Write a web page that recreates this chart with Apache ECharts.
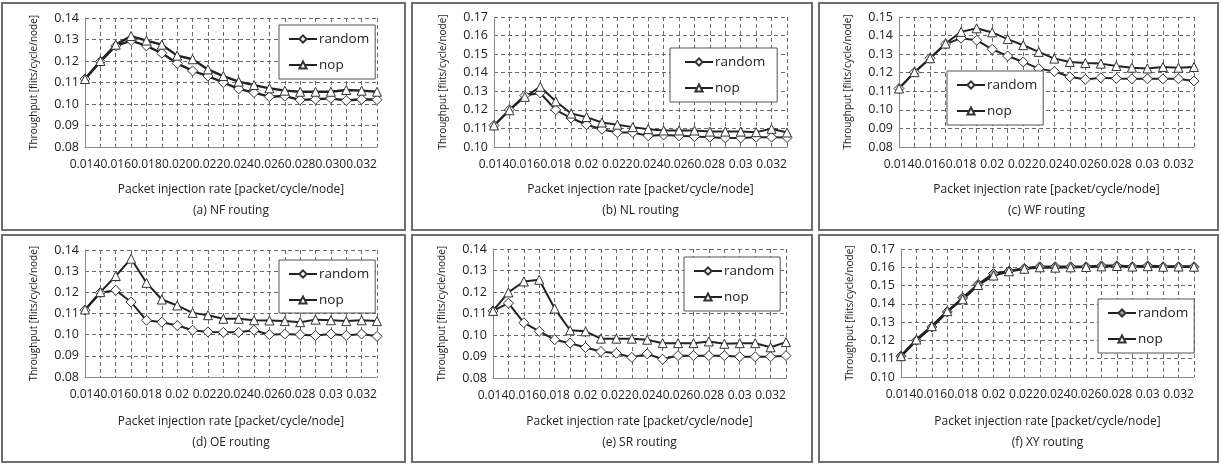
<!DOCTYPE html>
<html>
<head>
<meta charset="utf-8">
<script src="https://cdn.jsdelivr.net/npm/echarts@6/dist/echarts.min.js"></script>
<style>
  body { margin: 0; background: #fff; width: 1221px; height: 466px; position: relative; overflow: hidden; }
  .panel { position: absolute; box-sizing: border-box; border: 2px solid #6e6e6e; background: #fff; }
</style>
</head>
<body>
<div id="pa" class="panel" style="left:1px;top:2px;width:405px;height:229px"></div>
<div id="pb" class="panel" style="left:411px;top:2px;width:402px;height:229px"></div>
<div id="pc" class="panel" style="left:818px;top:2px;width:401px;height:229px"></div>
<div id="pd" class="panel" style="left:1px;top:234px;width:405px;height:229px"></div>
<div id="pe" class="panel" style="left:411px;top:234px;width:402px;height:229px"></div>
<div id="pf" class="panel" style="left:818px;top:234px;width:401px;height:229px"></div>

<script>
// packet injection rate, 0.014 .. 0.033
const rates = ['0.014', '0.015', '0.016', '0.017', '0.018', '0.019', '0.020', '0.021', '0.022', '0.023',
               '0.024', '0.025', '0.026', '0.027', '0.028', '0.029', '0.030', '0.031', '0.032', '0.033'];

// (a) NF routing
const nfRandom = [0.1116, 0.1197, 0.1270, 0.1295, 0.1270, 0.1236, 0.1189, 0.1154, 0.1130, 0.1100,
                  0.1070, 0.1053, 0.1034, 0.1037, 0.1019, 0.1022, 0.1026, 0.1016, 0.1022, 0.1020];
const nfNop    = [0.1116, 0.1200, 0.1276, 0.1316, 0.1295, 0.1276, 0.1225, 0.1208, 0.1161, 0.1130,
                  0.1104, 0.1088, 0.1073, 0.1062, 0.1057, 0.1057, 0.1057, 0.1065, 0.1062, 0.1057];
// (b) NL routing
const nlRandom = [0.1116, 0.1200, 0.1277, 0.1291, 0.1200, 0.1156, 0.1120, 0.1096, 0.1078, 0.1078,
                  0.1060, 0.1065, 0.1060, 0.1056, 0.1053, 0.1049, 0.1049, 0.1053, 0.1053, 0.1051];
const nlNop    = [0.1116, 0.1198, 0.1270, 0.1324, 0.1246, 0.1180, 0.1161, 0.1132, 0.1120, 0.1107,
                  0.1096, 0.1089, 0.1089, 0.1089, 0.1083, 0.1083, 0.1083, 0.1080, 0.1098, 0.1078];
// (c) WF routing
const wfRandom = [0.1115, 0.1203, 0.1278, 0.1354, 0.1386, 0.1375, 0.1326, 0.1290, 0.1258, 0.1222,
                  0.1207, 0.1178, 0.1164, 0.1173, 0.1169, 0.1167, 0.1167, 0.1167, 0.1167, 0.1155];
const wfNop    = [0.1115, 0.1203, 0.1278, 0.1357, 0.1420, 0.1439, 0.1417, 0.1381, 0.1348, 0.1312,
                  0.1276, 0.1258, 0.1252, 0.1249, 0.1236, 0.1227, 0.1223, 0.1231, 0.1227, 0.1231];
// (d) OE routing
const oeRandom = [0.1116, 0.1198, 0.1210, 0.1154, 0.1068, 0.1059, 0.1043, 0.1021, 0.1013, 0.1011,
                  0.1011, 0.1021, 0.1000, 0.1003, 0.1000, 0.0996, 0.1003, 0.0996, 0.1003, 0.0992];
const oeNop    = [0.1119, 0.1201, 0.1277, 0.1359, 0.1245, 0.1166, 0.1138, 0.1103, 0.1092, 0.1075,
                  0.1075, 0.1068, 0.1067, 0.1064, 0.1059, 0.1071, 0.1068, 0.1064, 0.1068, 0.1064];
// (e) SR routing
const srRandom = [0.1112, 0.1148, 0.1057, 0.1017, 0.0978, 0.0962, 0.0942, 0.0923, 0.0915, 0.0896,
                  0.0912, 0.0887, 0.0904, 0.0904, 0.0904, 0.0904, 0.0899, 0.0899, 0.0899, 0.0904];
const srNop    = [0.1112, 0.1198, 0.1249, 0.1257, 0.1123, 0.1022, 0.1017, 0.0983, 0.0983, 0.0983,
                  0.0978, 0.0962, 0.0962, 0.0962, 0.0970, 0.0959, 0.0962, 0.0962, 0.0943, 0.0967];
// (f) XY routing
const xyRandom = [0.1114, 0.1200, 0.1273, 0.1356, 0.1433, 0.1506, 0.1566, 0.1579, 0.1594, 0.1603,
                  0.1603, 0.1603, 0.1603, 0.1608, 0.1608, 0.1603, 0.1608, 0.1603, 0.1603, 0.1603];
const xyNop    = [0.1114, 0.1205, 0.1278, 0.1360, 0.1425, 0.1503, 0.1555, 0.1578, 0.1592, 0.1600,
                  0.1598, 0.1600, 0.1602, 0.1605, 0.1607, 0.1604, 0.1606, 0.1603, 0.1604, 0.1603];

const captions = ['(a) NF routing', '(b) NL routing', '(c) WF routing', '(d) OE routing', '(e) SR routing', '(f) XY routing'];
const yRanges = [[0.08, 0.14], [0.10, 0.17], [0.08, 0.15], [0.08, 0.14], [0.08, 0.14], [0.10, 0.17]];

// layout of each panel (px inside the panel border)
const panels = [
  { id: 'pa', random: nfRandom, nop: nfNop, grid: { left: 82, top: 14, right: 27, bottom: 82 }, legend: { left: 276, top: 21, padding: [7, 6, 7, 9] }, threeDigits: true, lineW: 2.4 },
  { id: 'pb', random: nlRandom, nop: nlNop, grid: { left: 81, top: 13, right: 24, bottom: 82 }, legend: { left: 257, top: 44, padding: [7, 12, 7, 14] }, lineW: 2 },
  { id: 'pc', random: wfRandom, nop: wfNop, grid: { left: 79, top: 13, right: 23, bottom: 82 }, legend: { left: 127, top: 67, padding: [7, 6, 7, 9] }, lineW: 2 },
  { id: 'pd', random: oeRandom, nop: oeNop, grid: { left: 82, top: 14, right: 27, bottom: 84 }, legend: { left: 276, top: 24, padding: [7, 6, 6, 9] }, lineW: 2 },
  { id: 'pe', random: srRandom, nop: srNop, grid: { left: 80, top: 13, right: 25, bottom: 83 }, legend: { left: 271, top: 21, padding: [7, 6, 7, 9] }, lineW: 2 },
  { id: 'pf', random: xyRandom, nop: xyNop, grid: { left: 81, top: 13, right: 23, bottom: 84 }, legend: { left: 278, top: 63, padding: [7, 6, 7, 9] }, lineW: 2.4, filled: true }
];

const font = 'Open Sans';
const ink = '#222';

const charts = [];
panels.forEach((p, i) => {
  const el = document.getElementById(p.id);
  const chart = echarts.init(el, null, { renderer: 'canvas' });
  const w = el.clientWidth;
  const cx = p.grid.left + (w - p.grid.left - p.grid.right) / 2;

  chart.setOption({
    animation: false,
    backgroundColor: '#fff',
    textStyle: { fontFamily: font, color: ink },
    title: [
      { text: 'Packet injection rate [packet/cycle/node]', left: cx, top: 180, textAlign: 'center', padding: 0,
        textStyle: { fontFamily: font, fontSize: 12, fontWeight: 'normal', color: ink } },
      { text: captions[i], left: cx, top: 201, textAlign: 'center', padding: 0,
        textStyle: { fontFamily: font, fontSize: 12, fontWeight: 'normal', color: ink } }
    ],
    grid: Object.assign({ outerBoundsMode: 'none', containLabel: false }, p.grid),
    legend: {
      orient: 'vertical',
      left: p.legend.left,
      top: p.legend.top,
      padding: p.legend.padding,
      itemGap: 12,
      itemWidth: 28,
      itemHeight: 9,
      backgroundColor: '#fff',
      borderColor: '#555',
      borderWidth: 1,
      borderRadius: 0,
      textStyle: { fontFamily: font, fontSize: 13.5, color: ink, padding: [0, 0, 0, -3] },
      data: ['random', 'nop']
    },
    xAxis: {
      type: 'category',
      data: rates,
      boundaryGap: false,
      axisLine: { lineStyle: { color: '#8a8a8a', width: 1 } },
      axisTick: { show: false },
      axisLabel: {
        interval: 1,
        margin: 12,
        fontFamily: font,
        fontSize: 12,
        color: ink,
        formatter: v => p.threeDigits ? Number(v).toFixed(3) : String(Number(v))
      },
      splitLine: { show: true, interval: 0, lineStyle: { color: '#6a6a6a', type: [4, 3], width: 1 } }
    },
    yAxis: {
      type: 'value',
      min: yRanges[i][0],
      max: yRanges[i][1],
      interval: 0.01,
      name: 'Throughput [flits/cycle/node]',
      nameLocation: 'middle',
      nameGap: 46,
      nameTextStyle: { fontFamily: font, fontSize: 10, color: ink },
      axisLine: { show: true, lineStyle: { color: '#8a8a8a', width: 1 } },
      axisTick: { show: false },
      axisLabel: { margin: 6, fontFamily: font, fontSize: 12.5, color: ink, formatter: v => v.toFixed(2) },
      splitLine: { show: true, lineStyle: { color: '#6a6a6a', type: [4, 3], width: 1 } }
    },
    series: [
      {
        name: 'random',
        type: 'line',
        data: p.random,
        symbol: 'diamond',
        symbolSize: 10,
        showAllSymbol: true,
        lineStyle: { color: '#222', width: p.lineW },
        itemStyle: { color: p.filled ? '#9a9a9a' : '#fff', borderColor: '#333', borderWidth: 1 }
      },
      {
        name: 'nop',
        type: 'line',
        data: p.nop,
        symbol: 'triangle',
        symbolSize: 9,
        showAllSymbol: true,
        lineStyle: { color: '#222', width: p.lineW },
        itemStyle: { color: '#fff', borderColor: '#333', borderWidth: 1 }
      }
    ]
  });
  charts.push(chart);
});
</script>
</body>
</html>
